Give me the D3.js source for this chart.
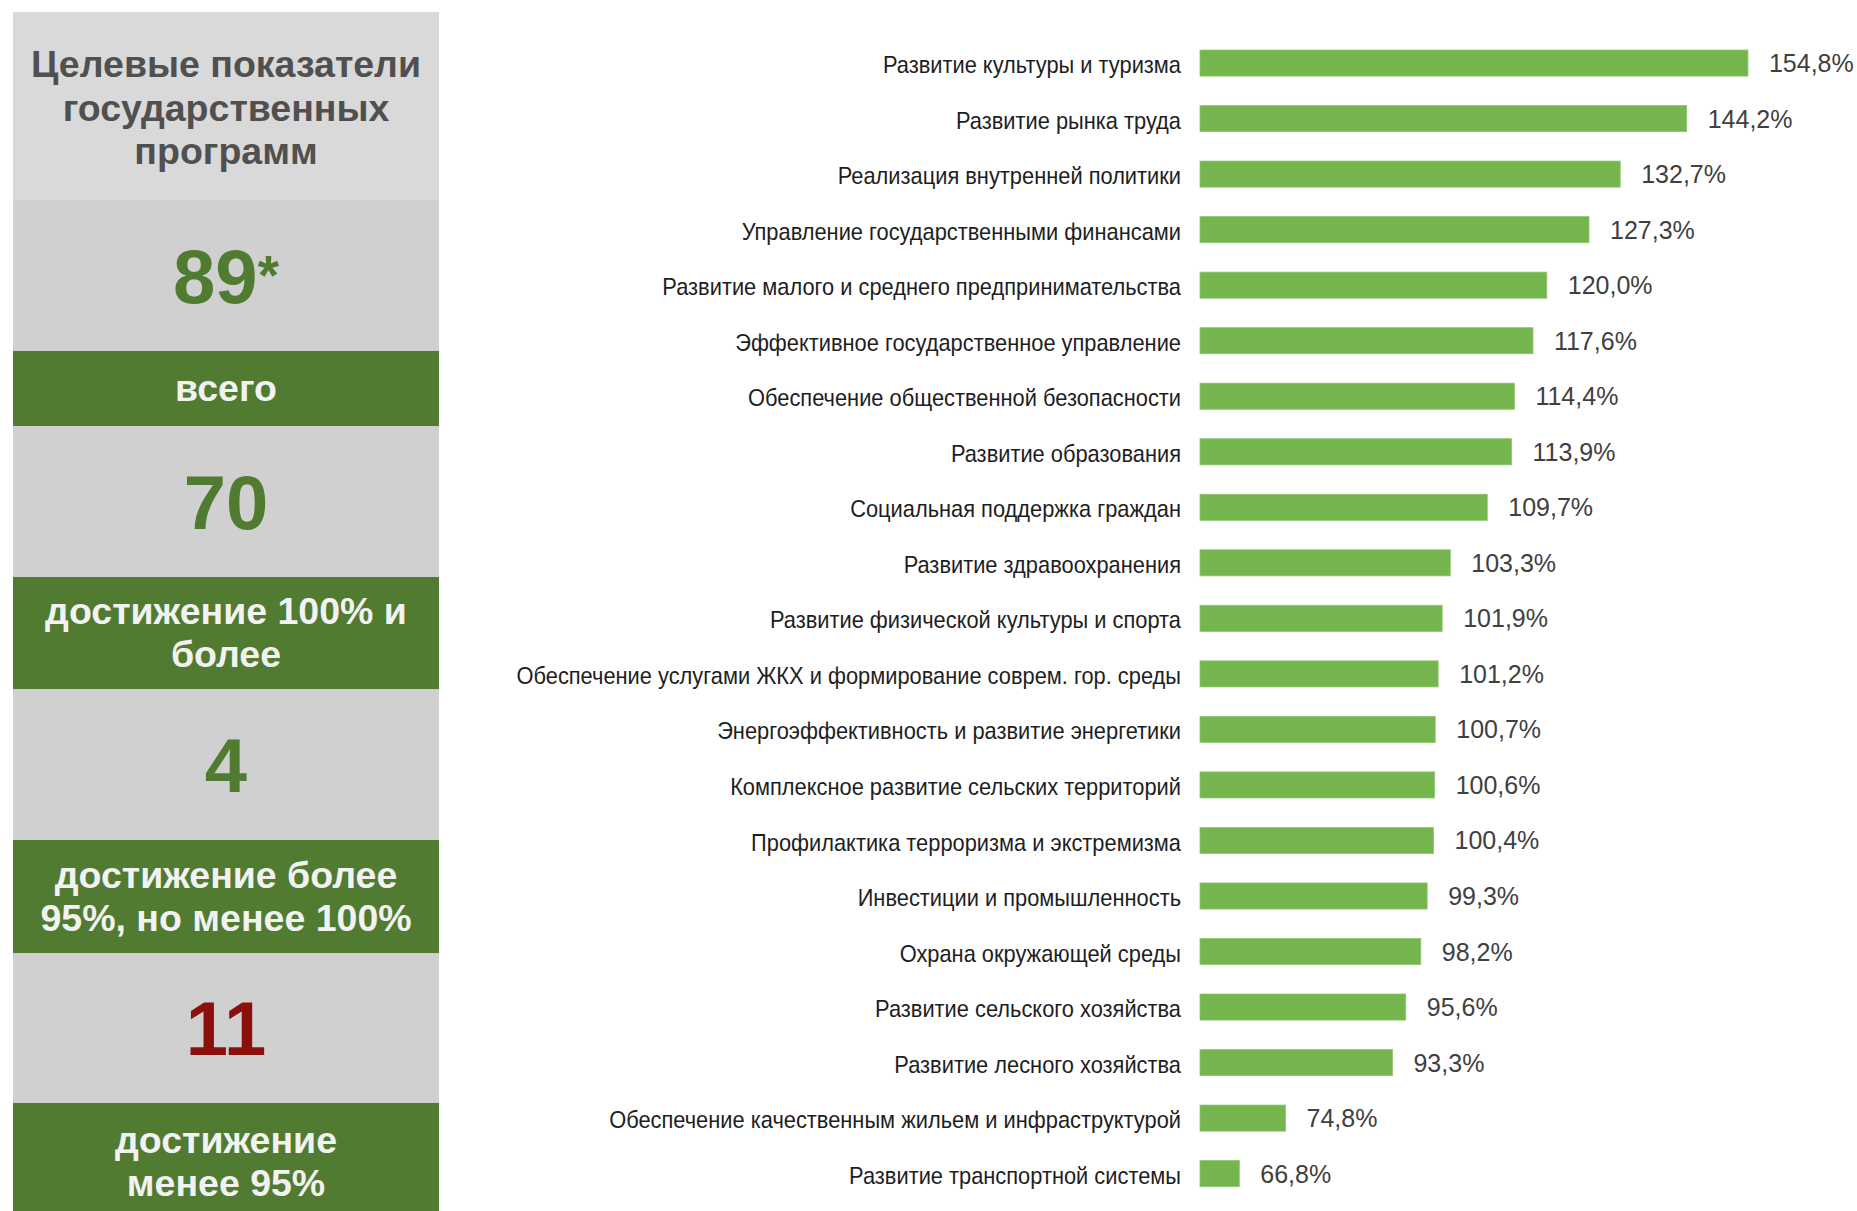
<!DOCTYPE html>
<html>
<head>
<meta charset="utf-8">
<script src="https://cdn.jsdelivr.net/npm/d3@7"></script>
<style>
  html, body { margin: 0; padding: 0; background: #ffffff; }
  svg { display: block; }
</style>
</head>
<body>
<svg id="chart" width="1857" height="1211"></svg>
<script>
// ---------- DATA ----------
const categories = [
  "Развитие культуры и туризма",
  "Развитие рынка труда",
  "Реализация внутренней политики",
  "Управление государственными финансами",
  "Развитие малого и среднего предпринимательства",
  "Эффективное государственное управление",
  "Обеспечение общественной безопасности",
  "Развитие образования",
  "Социальная поддержка граждан",
  "Развитие здравоохранения",
  "Развитие физической культуры и спорта",
  "Обеспечение услугами ЖКХ и формирование соврем. гор. среды",
  "Энергоэффективность и развитие энергетики",
  "Комплексное развитие сельских территорий",
  "Профилактика терроризма и экстремизма",
  "Инвестиции и промышленность",
  "Охрана окружающей среды",
  "Развитие сельского хозяйства",
  "Развитие лесного хозяйства",
  "Обеспечение качественным жильем и инфраструктурой",
  "Развитие транспортной системы"
];
const values = [154.8, 144.2, 132.7, 127.3, 120.0, 117.6, 114.4, 113.9, 109.7, 103.3,
                101.9, 101.2, 100.7, 100.6, 100.4, 99.3, 98.2, 95.6, 93.3, 74.8, 66.8];

const panelTitle = ["Целевые показатели", "государственных", "программ"];
const panelCounts = ["89", "70", "4", "11"];
const panelCountMarks = ["*", "", "", ""];
const panelCaptions = [
  ["всего"],
  ["достижение 100% и", "более"],
  ["достижение более", "95%, но менее 100%"],
  ["достижение", "менее 95%"]
];
const countKinds = ["good", "good", "good", "bad"];

// ---------- STYLE / LAYOUT ----------
const FONT = "'Liberation Sans', Arial, 'DejaVu Sans', sans-serif";
const GREEN_DARK = "#507b31";
const BAR_GREEN = "#75b54e";
const RED = "#8b0f0b";
const svg = d3.select("#chart");

// Left panel
const panelX0 = 13, panelX1 = 439;
const panelCx = (panelX0 + panelX1) / 2;
const bands = [
  {y0: 12,  y1: 200,  type: "title"},
  {y0: 200, y1: 351,  type: "count", i: 0},
  {y0: 351, y1: 426,  type: "cap",   i: 0},
  {y0: 426, y1: 577,  type: "count", i: 1},
  {y0: 577, y1: 689,  type: "cap",   i: 1},
  {y0: 689, y1: 840,  type: "count", i: 2},
  {y0: 840, y1: 953,  type: "cap",   i: 2},
  {y0: 953, y1: 1103, type: "count", i: 3},
  {y0: 1103, y1: 1221, type: "cap",  i: 3}
];
const bandFill = {title: "#d9d9d9", count: "#d0d0d0", cap: GREEN_DARK};

const panel = svg.append("g");
panel.selectAll("rect").data(bands).join("rect")
  .attr("x", panelX0).attr("width", panelX1 - panelX0)
  .attr("y", d => d.y0).attr("height", d => d.y1 - d.y0)
  .attr("fill", d => bandFill[d.type]);

// Title
const titleSize = 37.5, titleLH = 43.5;
const titleBand = bands[0];
const titleMid = (titleBand.y0 + titleBand.y1) / 2 + 1;
panel.append("text")
  .attr("text-anchor", "middle")
  .attr("font-family", FONT).attr("font-weight", "bold")
  .attr("font-size", titleSize).attr("fill", "#505050")
  .selectAll("tspan").data(panelTitle).join("tspan")
  .attr("x", panelCx)
  .attr("y", (d, i) => titleMid + (i - (panelTitle.length - 1) / 2) * titleLH + 0.36 * titleSize)
  .text(d => d);

// Counts
const countSize = 76;
bands.filter(b => b.type === "count").forEach(b => {
  const t = panel.append("text")
    .attr("x", panelCx)
    .attr("y", (b.y0 + b.y1) / 2 + 0.358 * countSize)
    .attr("text-anchor", "middle")
    .attr("font-family", FONT).attr("font-weight", "bold")
    .attr("font-size", countSize)
    .attr("fill", countKinds[b.i] === "bad" ? RED : GREEN_DARK);
  t.append("tspan").text(panelCounts[b.i]);
  if (panelCountMarks[b.i]) {
    t.append("tspan").attr("font-size", countSize * 0.72).attr("dy", -9)
      .text(panelCountMarks[b.i]);
  }
});

// Captions
const capSize = 37.5, capLH = 43;
bands.filter(b => b.type === "cap").forEach(b => {
  const lines = panelCaptions[b.i];
  const mid = (b.y0 + b.y1) / 2;
  panel.append("text")
    .attr("text-anchor", "middle")
    .attr("font-family", FONT).attr("font-weight", "bold")
    .attr("font-size", capSize).attr("fill", "#f2f2f2")
    .selectAll("tspan").data(lines).join("tspan")
    .attr("x", panelCx)
    .attr("y", (d, i) => mid + (i - (lines.length - 1) / 2) * capLH + 0.34 * capSize)
    .text(d => d);
});

// ---------- BAR CHART ----------
const x = d3.scaleLinear().domain([60, 160]).range([1200, 1778]);
const y = d3.scaleBand().domain(categories).range([35.3, 1201.4])
  .paddingInner(0.53).paddingOuter(0.265);

const data = categories.map((c, i) => ({cat: c, val: values[i]}));
const fmt = v => d3.format(".1f")(v).replace(".", ",") + "%";

const chart = svg.append("g");
chart.selectAll("rect.bar").data(data).join("rect")
  .attr("class", "bar")
  .attr("x", x(60))
  .attr("y", d => y(d.cat))
  .attr("width", d => x(d.val) - x(60))
  .attr("height", y.bandwidth())
  .attr("fill", BAR_GREEN)
  .attr("stroke", "#8fc570").attr("stroke-width", 0.8);

// category axis labels via d3 axis (slightly condensed like the original)
const labelScaleX = 0.91, labelPad = 19;
const yAxis = d3.axisLeft(y).tickSize(0).tickPadding(labelPad);
const axisG = chart.append("g")
  .attr("transform", `translate(${x(60)},0)`)
  .call(yAxis);
axisG.select(".domain").remove();
axisG.selectAll("text")
  .attr("font-family", FONT)
  .attr("font-size", 24)
  .attr("fill", "#1e1e1e")
  .attr("x", -labelPad / labelScaleX)
  .attr("transform", `scale(${labelScaleX},1)`)
  .attr("dy", "0.42em");

// value labels
chart.selectAll("text.val").data(data).join("text")
  .attr("class", "val")
  .attr("x", d => x(d.val) + 21)
  .attr("y", d => y(d.cat) + y.bandwidth() / 2)
  .attr("dy", "0.36em")
  .attr("font-family", FONT)
  .attr("font-size", 25)
  .attr("fill", "#404040")
  .text(d => fmt(d.val));
</script>
</body>
</html>
